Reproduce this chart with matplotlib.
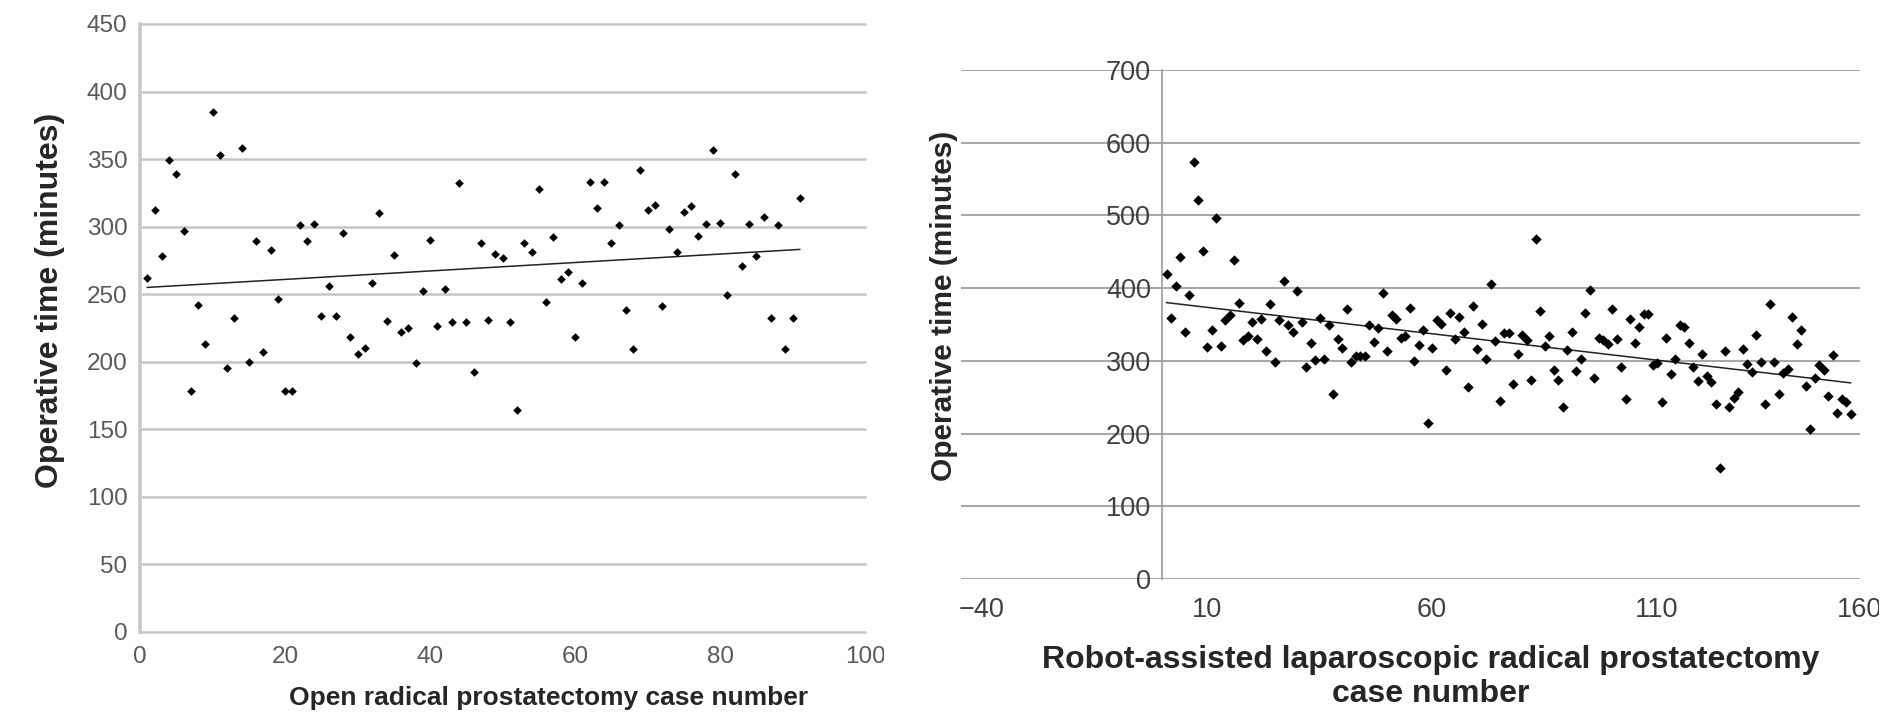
import numpy as np
import matplotlib
matplotlib.use("Agg")
import matplotlib.pyplot as plt
from matplotlib import transforms

# ---------------- data ----------------
open_time = [262, 312, 278, 349, 339, 297, 178, 242, 213, 385,
             353, 195, 232, 358, 200, 289, 207, 283, 246, 178,
             178, 301, 289, 302, 234, 256, 234, 295, 218, 206,
             210, 258, 310, 230, 279, 222, 225, 199, 252, 290,
             226, 254, 229, 332, 229, 192, 288, 231, 280, 277,
             229, 164, 288, 281, 328, 244, 292, 261, 266, 218,
             258, 333, 314, 333, 288, 301, 238, 209, 342, 312,
             316, 241, 298, 281, 311, 315, 293, 302, 357, 303,
             249, 339, 271, 302, 278, 307, 232, 301, 209, 232,
             321]
open_case = list(range(1, len(open_time) + 1))

robot_time = [420, 359, 403, 443, 340, 390, 573, 521, 451, 319,
              342, 496, 320, 356, 363, 439, 379, 328, 334, 354,
              330, 357, 313, 378, 299, 356, 410, 349, 340, 396,
              354, 292, 325, 301, 359, 302, 350, 255, 330, 318,
              372, 299, 306, 307, 306, 350, 326, 345, 394, 313,
              363, 357, 332, 334, 373, 300, 322, 342, 214, 317,
              356, 351, 287, 366, 330, 361, 339, 264, 375, 316,
              351, 302, 406, 327, 245, 338, 338, 268, 310, 335,
              328, 274, 467, 369, 321, 334, 287, 274, 236, 315,
              340, 286, 303, 366, 398, 277, 331, 328, 323, 372,
              330, 292, 248, 357, 325, 347, 364, 364, 294, 297,
              243, 332, 282, 302, 350, 347, 325, 292, 272, 309,
              279, 271, 240, 153, 314, 236, 249, 257, 316, 295,
              285, 335, 298, 240, 378, 298, 254, 283, 289, 361,
              323, 342, 266, 206, 277, 294, 288, 251, 308, 228,
              248, 244, 227]
robot_case = list(range(1, len(robot_time) + 1))

open_xticks = [0, 20, 40, 60, 80, 100]
open_yticks = [0, 50, 100, 150, 200, 250, 300, 350, 400, 450]
robot_xticks = [-40, 10, 60, 110, 160]
robot_yticks = [0, 100, 200, 300, 400, 500, 600, 700]

open_xlabel = "Open radical prostatectomy case number"
robot_xlabel = "Robot-assisted laparoscopic radical prostatectomy\ncase number"
ylabel = "Operative time (minutes)"

# ---------------- style ----------------
plt.rcParams['font.family'] = ['Liberation Sans', 'DejaVu Sans']
W, H = 1886, 718
fig = plt.figure(figsize=(W / 100, H / 100), dpi=100)
fig.patch.set_facecolor('white')

def trend(ax, x, y, **kw):
    x = np.asarray(x, float)
    y = np.asarray(y, float)
    k, b = np.polyfit(x, y, 1)
    xs = np.array([x.min(), x.max()])
    ax.plot(xs, k * xs + b, **kw)

def clip_right(t, px):
    t.set_clip_box(transforms.TransformedBbox(
        transforms.Bbox([[0, 0], [px / W, 1]]), fig.transFigure))
    t.set_clip_on(True)

# ---------------- left panel ----------------
axL = fig.add_axes([140 / W, (H - 631.7) / H, 725 / W, 607.7 / H])
axL.set_xlim(0, 100)
axL.set_ylim(0, 450)
axL.set_yticks(open_yticks)
axL.set_xticks(open_xticks[:-1])
axL.grid(axis='y', color='#c6c6c6', lw=1.8)
axL.grid(axis='x', visible=False)
axL.set_axisbelow(True)
for ln in axL.get_ygridlines():
    ln.set_clip_on(False)
for s in ['top', 'right', 'bottom']:
    axL.spines[s].set_visible(False)
axL.spines['left'].set_color('#c8c8c8')
axL.spines['left'].set_linewidth(2.6)
axL.tick_params(axis='both', length=0, labelsize=17.5, labelcolor='#595959')
axL.tick_params(axis='y', pad=9)
axL.tick_params(axis='x', pad=10.5)
# last x tick label drawn as text so it can be cut at the panel edge
t = axL.text(open_xticks[-1], 0, str(open_xticks[-1]),
             transform=transforms.offset_copy(axL.get_xaxis_transform(), fig=fig, y=-10.5, units='points'),
             ha='center', va='top', fontsize=17.5, color='#595959')
clip_right(t, 884)

axL.scatter(open_case, open_time, marker='D', s=4.4 ** 2, color='black', linewidths=0, zorder=3)
trend(axL, open_case, open_time, color='#222222', lw=1.1, zorder=2)

axL.set_ylabel(ylabel, fontsize=23, fontweight='bold', color='#262626')
axL.yaxis.label.set_va('center')
axL.yaxis.set_label_coords((50.5 - 140) / 725, (631.7 - 300.7) / 607.7)
axL.set_xlabel(open_xlabel, fontsize=19, fontweight='bold', color='#262626')
axL.xaxis.label.set_va('center')
axL.xaxis.set_label_coords((548.5 - 140) / 725, (631.7 - 698.5) / 607.7)

# ---------------- right panel ----------------
x0_px, x1_px = 961, 1860
zero_px = 1162
ppu = 4.5
rxmin = -(zero_px - x0_px) / ppu
rxmax = rxmin + (x1_px - x0_px) / ppu
axR = fig.add_axes([x0_px / W, (H - 579) / H, (x1_px - x0_px) / W, 509 / H])
axR.set_xlim(rxmin, rxmax)
axR.set_ylim(0, 700)
axR.set_yticks(robot_yticks)
inside = [v for v in robot_xticks if rxmin <= v <= rxmax]
outside = [v for v in robot_xticks if not (rxmin <= v <= rxmax)]
axR.set_xticks(inside)
axR.grid(axis='y', color='#a8a8a8', lw=1.5)
axR.grid(axis='x', visible=False)
axR.set_axisbelow(True)
for ln in axR.get_ygridlines():
    ln.set_clip_on(False)
for s in ['top', 'right', 'bottom']:
    axR.spines[s].set_visible(False)
axR.spines['left'].set_position(('data', 0))
axR.spines['left'].set_color('#9a9a9a')
axR.spines['left'].set_linewidth(1.2)
axR.tick_params(axis='both', length=0, labelsize=19.5, labelcolor='#404040')
axR.tick_params(axis='y', pad=8)
axR.tick_params(axis='x', pad=13)
for v in outside:
    t = axR.text(1.0, 0, str(v),
                 transform=transforms.offset_copy(axR.transAxes, fig=fig, y=-13, units='points'),
                 ha='center', va='top', fontsize=19.5, color='#404040')
    clip_right(t, 1879)

axR.scatter(robot_case, robot_time, marker='D', s=5.3 ** 2, color='black', linewidths=0, zorder=3)
trend(axR, robot_case, robot_time, color='#222222', lw=1.1, zorder=2)

axR.set_ylabel(ylabel, fontsize=21.5, fontweight='bold', color='#262626')
axR.yaxis.label.set_va('center')
axR.yaxis.set_label_coords((944 - x0_px) / (x1_px - x0_px), (579 - 305.6) / 509)
axR.set_xlabel(robot_xlabel, fontsize=23, fontweight='bold', color='#262626', linespacing=1.2)
axR.xaxis.label.set_va('center')
axR.xaxis.set_label_coords((1431 - x0_px) / (x1_px - x0_px), (579 - 677) / 509)

fig.savefig("out.png", dpi=100, facecolor='white')
